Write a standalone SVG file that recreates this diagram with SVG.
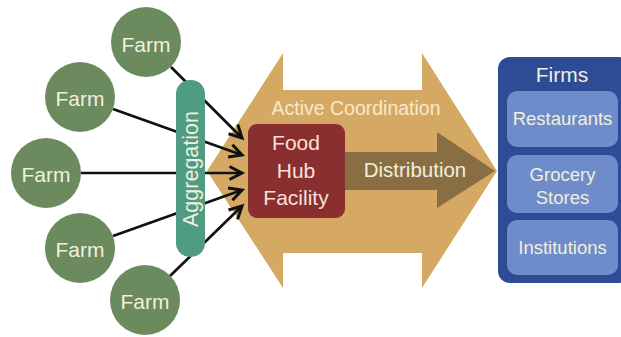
<svg xmlns="http://www.w3.org/2000/svg" width="621" height="337" viewBox="0 0 621 337">
<defs>
<style>
.farm{fill:#6b8a5e}
.lt{font-family:"Liberation Sans",Arial,sans-serif;fill:#f2efdc;text-anchor:middle}
.conn{stroke:#111;stroke-width:2.7;fill:none;marker-end:url(#chev)}
.inner{fill:#6e8cc9}
</style>
<marker id="chev" markerUnits="userSpaceOnUse" viewBox="0 0 14 14" markerWidth="14" markerHeight="14" refX="12.5" refY="7" orient="auto" overflow="visible">
<path d="M0,0.5 L12.5,7 L0,13.5" fill="none" stroke="#111" stroke-width="3"/>
</marker>
</defs>
<rect width="621" height="337" fill="#fff"/>
<g id="coordination">
<polygon points="207,171 283,53 283,90 422,90 422,53 497,171 422,288 422,253 283,253 283,288" fill="#d5a963"/>
<text x="356" y="115" class="lt" font-size="19.5" style="fill:#f6e9c8">Active Coordination</text>
</g>
<g id="distribution">
<polygon points="345,152 437,152 437,132 495,171 437,208 437,190 345,190" fill="#8a6e43"/>
<text x="415" y="177" class="lt" font-size="20.5">Distribution</text>
</g>
<g id="connectors">
<line class="conn" x1="171" y1="67" x2="242" y2="138"/>
<line class="conn" x1="113" y1="109" x2="242" y2="155"/>
<line class="conn" x1="81" y1="173" x2="242" y2="173"/>
<line class="conn" x1="113" y1="236" x2="242" y2="190"/>
<line class="conn" x1="170" y1="276" x2="242" y2="206"/>
</g>
<g id="aggregation">
<rect x="176" y="80" width="29" height="177" rx="14" fill="#4f9c83"/>
<text transform="translate(198,169) rotate(-90)" x="0" y="0" class="lt" font-size="21.5">Aggregation</text>
</g>
<g id="farm1"><circle cx="146" cy="42" r="35" class="farm"/><text x="146" y="52" class="lt" font-size="21">Farm</text></g>
<g id="farm2"><circle cx="80" cy="97" r="35" class="farm"/><text x="80" y="106" class="lt" font-size="21">Farm</text></g>
<g id="farm3"><circle cx="46" cy="173" r="35" class="farm"/><text x="46" y="182" class="lt" font-size="21">Farm</text></g>
<g id="farm4"><circle cx="80" cy="248" r="35" class="farm"/><text x="80" y="257" class="lt" font-size="21">Farm</text></g>
<g id="farm5"><circle cx="145" cy="300" r="35" class="farm"/><text x="145" y="309" class="lt" font-size="21">Farm</text></g>
<g id="foodhub">
<rect x="248" y="124" width="97" height="94" rx="9" fill="#8a2f2f"/>
<text class="lt" font-size="21" style="fill:#f7e1dc"><tspan x="296" y="150">Food</tspan><tspan x="296" y="178">Hub</tspan><tspan x="296" y="205">Facility</tspan></text>
</g>
<g id="firms">
<rect x="498" y="57" width="132" height="226" rx="12" fill="#2e4c95"/>
<text x="562" y="82" class="lt" font-size="21">Firms</text>
<rect x="507" y="91" width="111" height="56" rx="10" class="inner"/>
<text x="562.5" y="125" class="lt" font-size="18.5">Restaurants</text>
<rect x="507" y="155" width="111" height="58" rx="10" class="inner"/>
<text class="lt" font-size="18.5"><tspan x="562.5" y="181">Grocery</tspan><tspan x="562.5" y="204">Stores</tspan></text>
<rect x="507" y="220" width="111" height="55" rx="10" class="inner"/>
<text x="562.5" y="254" class="lt" font-size="18.5">Institutions</text>
</g>
</svg>
